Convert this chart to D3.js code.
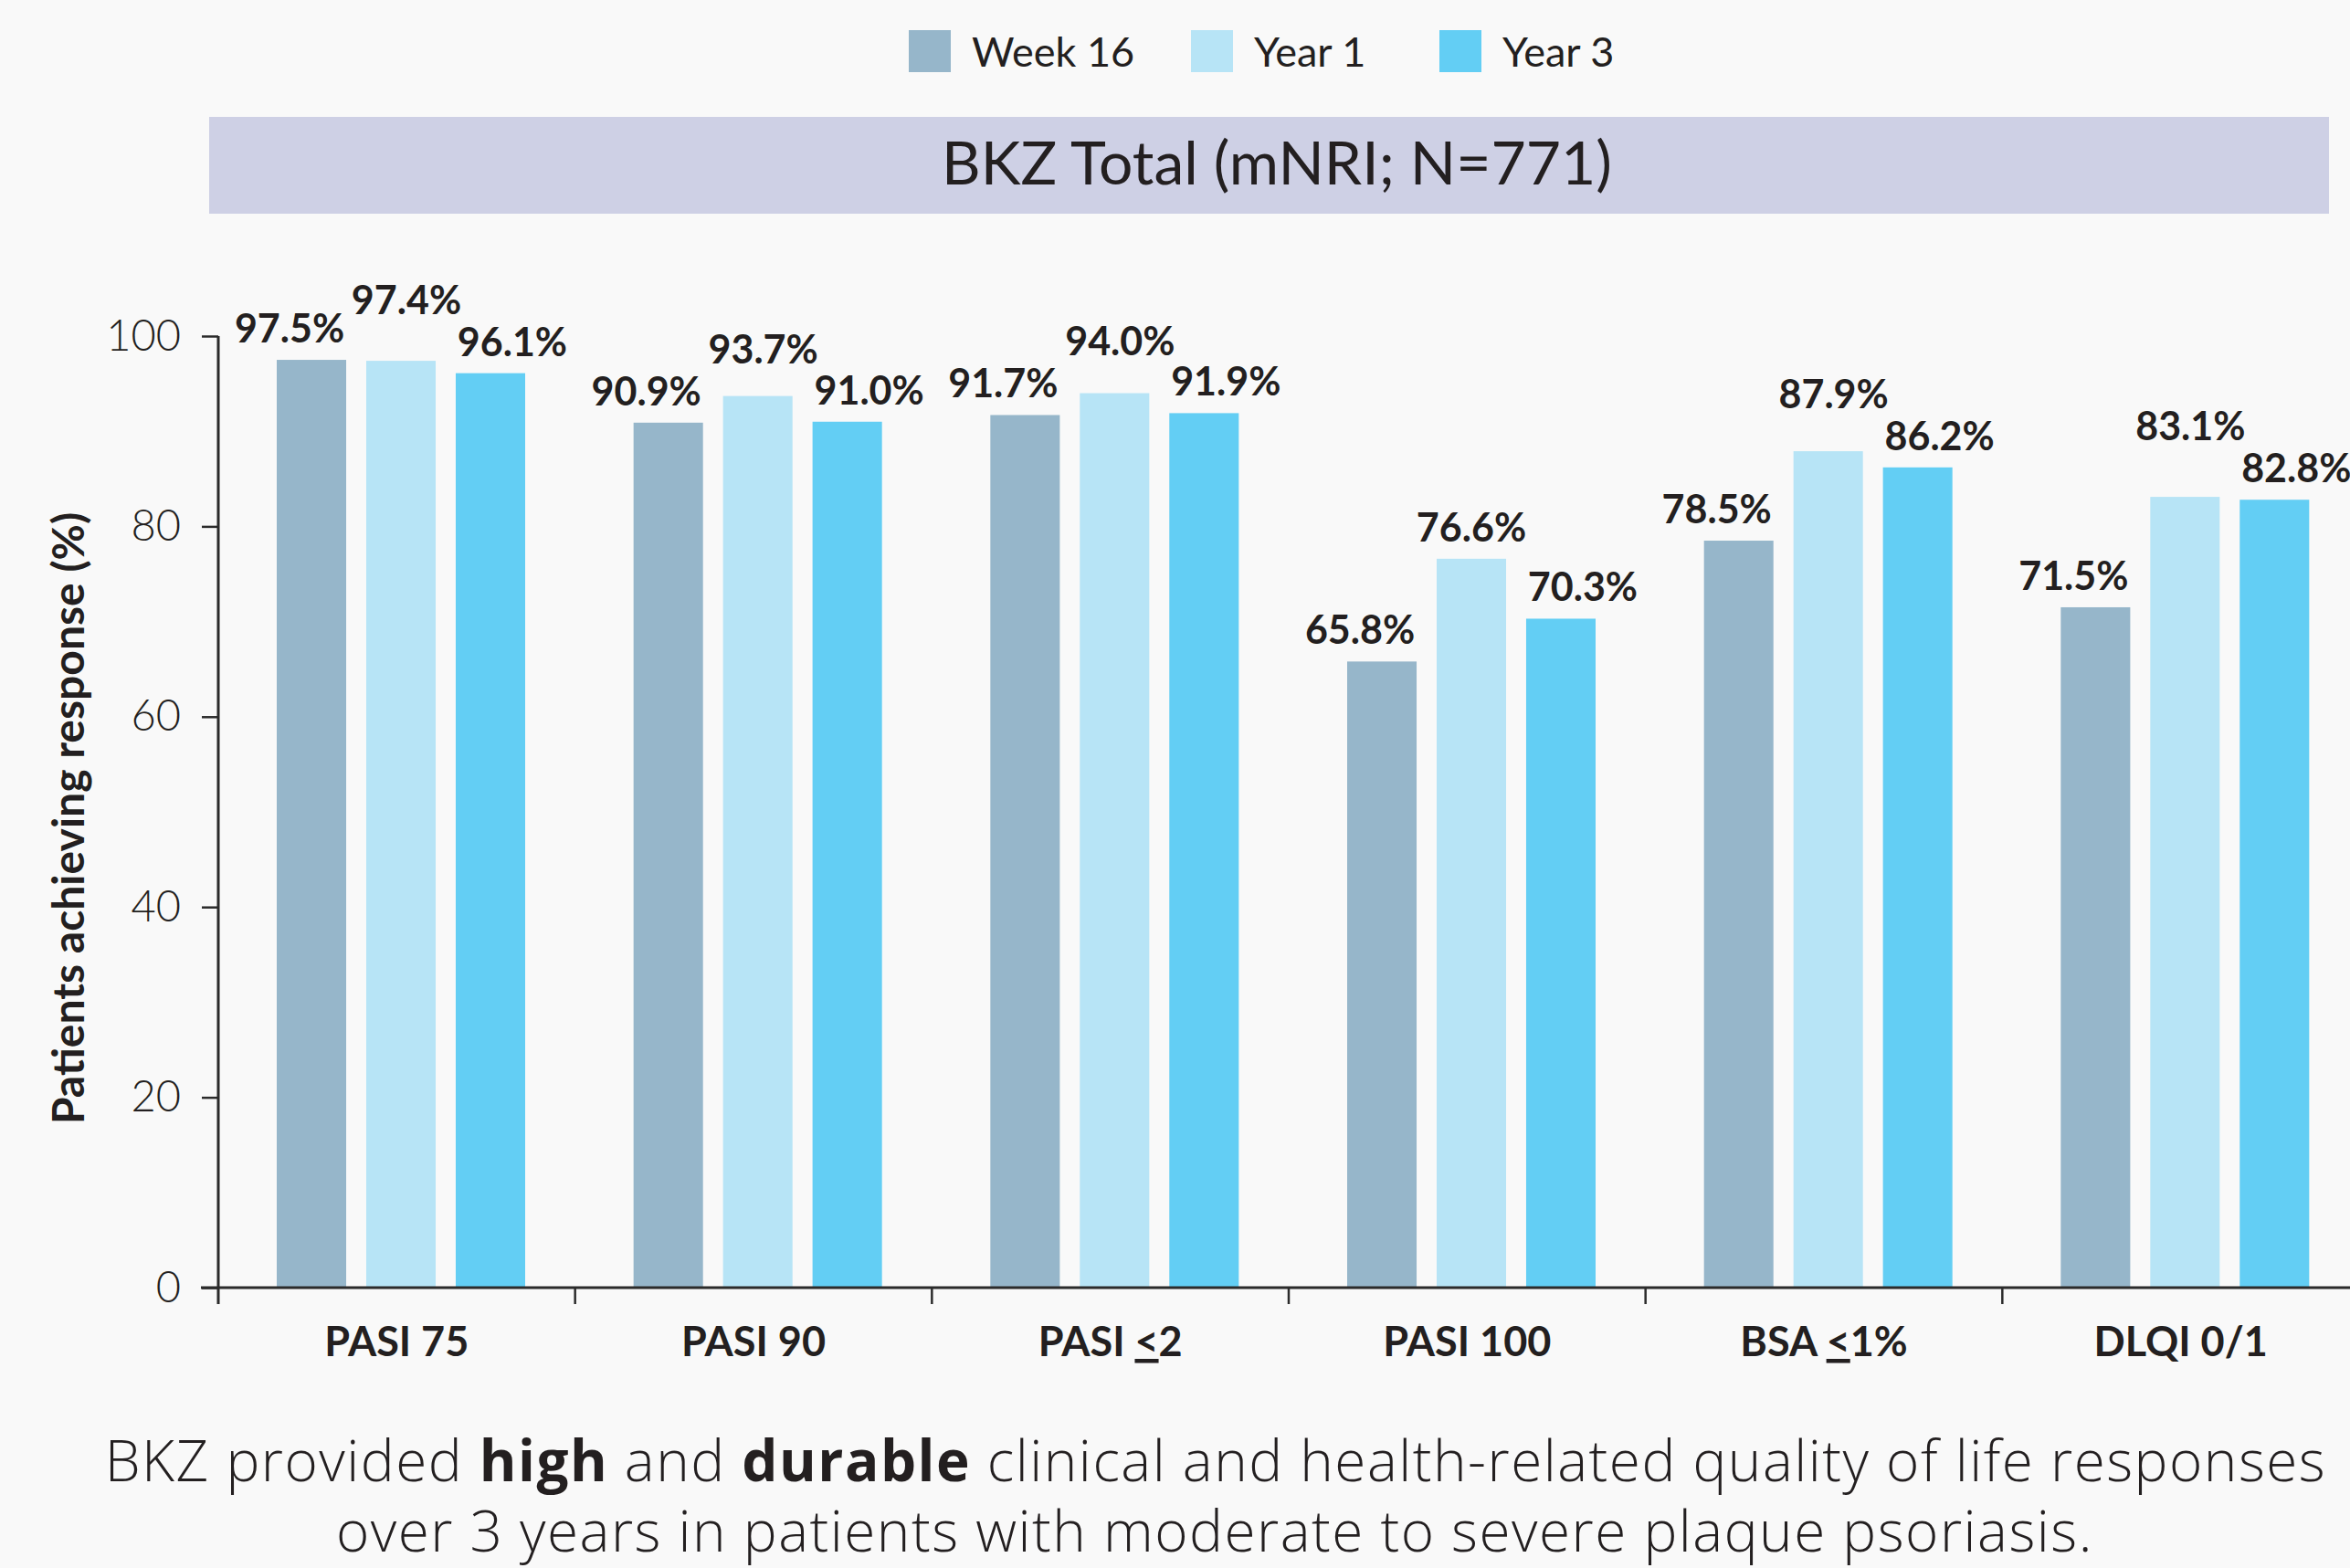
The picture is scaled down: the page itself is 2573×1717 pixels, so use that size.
<!DOCTYPE html>
<html>
<head>
<meta charset="utf-8">
<script src="https://cdn.jsdelivr.net/npm/d3@7"></script>
<style>
  html, body { margin: 0; padding: 0; background: #f9f9f9; }
  svg { display: block; }
</style>
</head>
<body>
<div class="chart"></div>
<script>
// data
let categories = ["PASI 75", "PASI 90", "PASI ≤2", "PASI 100", "BSA ≤1%", "DLQI 0/1"];
let seriesNames = ["Week 16", "Year 1", "Year 3"];
let week16 = [97.5, 90.9, 91.7, 65.8, 78.5, 71.5];
let year1 = [97.4, 93.7, 94.0, 76.6, 87.9, 83.1];
let year3 = [96.1, 91.0, 91.9, 70.3, 86.2, 82.8];
let yTicks = [0, 20, 40, 60, 80, 100];
let panelTitle = "BKZ Total (mNRI; N=771)";
let yTitle = "Patients achieving response (%)";

let config = {
  width: 2573,
  height: 1717,
  font: 'Lato, "Open Sans", sans-serif',
  captionFont: '"Open Sans", Lato, sans-serif',
  textColor: '#231f20',
  axisColor: '#2b2b2b',
  colors: ["#96b6ca", "#b7e4f6", "#63cef4"],
  bandColor: '#ced0e5',
  bg: '#f9f9f9'
}

let svg = d3.select('div.chart').append('svg')
  .attr('width', config.width)
  .attr('height', config.height)
  .attr('font-family', config.font);

svg.append('rect')
  .attr('width', config.width).attr('height', config.height)
  .attr('fill', config.bg);

let values = [week16, year1, year3];

// scales
let x0 = d3.scaleBand()
  .domain(categories)
  .range([239, 2583]);

let x1 = d3.scaleBand()
  .domain(seriesNames)
  .range([64, 336])
  .paddingInner(0.224);

let y = d3.scaleLinear()
  .domain([0, 100])
  .range([1410, 368]);

let color = d3.scaleOrdinal()
  .domain(seriesNames)
  .range(config.colors);

// legend
let legend = svg.append('g').attr('transform', 'translate(995,33)');
let legendX = [0, 309, 581];
seriesNames.forEach((s, i) => {
  let g = legend.append('g').attr('transform', 'translate(' + legendX[i] + ',0)');
  g.append('rect').attr('width', 46).attr('height', 46).attr('fill', color(s));
  g.append('text')
    .attr('x', 69).attr('y', 40)
    .attr('font-size', 45)
    .attr('fill', config.textColor)
    .text(s);
});

// title band
svg.append('rect')
  .attr('x', 229).attr('y', 128)
  .attr('width', 2321).attr('height', 106)
  .attr('fill', config.bandColor);

svg.append('text')
  .attr('x', 1398).attr('y', 202)
  .attr('text-anchor', 'middle')
  .attr('font-size', 66)
  .attr('fill', config.textColor)
  .text(panelTitle);

// y axis
let yAxis = svg.append('g')
  .attr('transform', 'translate(239,0)')
  .call(d3.axisLeft(y).tickValues(yTicks).tickSize(18).tickPadding(23));
yAxis.select('.domain').remove();
yAxis.selectAll('.tick line').attr('stroke', config.axisColor).attr('stroke-width', 2.5);
yAxis.selectAll('.tick text')
  .attr('font-size', 47)
  .attr('font-weight', 300)
  .attr('font-family', config.font)
  .attr('fill', config.textColor);

svg.append('line')
  .attr('x1', 239).attr('x2', 239)
  .attr('y1', y(100)).attr('y2', y(0) + 18)
  .attr('stroke', config.axisColor).attr('stroke-width', 3);

svg.append('text')
  .attr('transform', 'translate(92,' + 896 + ') rotate(-90)')
  .attr('text-anchor', 'middle')
  .attr('font-size', 48)
  .attr('font-weight', 700)
  .attr('fill', config.textColor)
  .text(yTitle);

// bars
let groups = svg.selectAll('.group')
  .data(categories)
  .enter().append('g')
  .attr('transform', d => 'translate(' + x0(d) + ',0)');

groups.selectAll('rect')
  .data((c, ci) => seriesNames.map((s, si) => ({ s: s, v: values[si][ci] })))
  .enter().append('rect')
  .attr('x', d => x1(d.s))
  .attr('width', x1.bandwidth())
  .attr('y', d => y(d.v))
  .attr('height', d => y(0) - y(d.v))
  .attr('fill', d => color(d.s));

// x axis
svg.append('line')
  .attr('x1', 220).attr('x2', config.width)
  .attr('y1', y(0)).attr('y2', y(0))
  .attr('stroke', config.axisColor).attr('stroke-width', 3.2);

svg.selectAll('.xtick')
  .data(categories.slice(1))
  .enter().append('line')
  .attr('x1', d => x0(d)).attr('x2', d => x0(d))
  .attr('y1', y(0)).attr('y2', y(0) + 18)
  .attr('stroke', config.axisColor).attr('stroke-width', 2.5);

let catLabels = svg.selectAll('.cat')
  .data(categories)
  .enter().append('text')
  .attr('x', d => x0(d) + x0.bandwidth() / 2)
  .attr('y', 1485)
  .attr('text-anchor', 'middle')
  .attr('font-size', 45)
  .attr('font-weight', 700)
  .attr('fill', config.textColor);

catLabels.each(function(d) {
  let t = d3.select(this);
  let parts = d.split('≤');
  t.append('tspan').text(parts[0]);
  if (parts.length > 1) {
    t.append('tspan').attr('text-decoration', 'underline').text('<');
    t.append('tspan').text(parts[1]);
  }
});

// value labels: outer ones pushed outwards, middle one lifted if it collides
let capH = 34;
groups.each(function(c, ci) {
  let g = d3.select(this);
  let labels = seriesNames.map((s, si) => {
    let v = values[si][ci];
    let cx = x1(s) + x1.bandwidth() / 2 + (si - 1) * 24;
    let t = g.append('text')
      .attr('text-anchor', 'middle')
      .attr('font-size', 43)
      .attr('font-weight', 700)
      .attr('fill', config.textColor)
      .attr('x', cx)
      .text(v.toFixed(1) + '%');
    let w = t.node().getComputedTextLength();
    return { t: t, cx: cx, w: w, base: y(v) - 19 };
  });
  let mid = labels[1];
  let hits = [labels[0], labels[2]].filter(o => {
    let hx = Math.abs(o.cx - mid.cx) < (o.w + mid.w) / 2 + 8;
    let hy = mid.base > o.base - capH - 4;
    return hx && hy;
  });
  if (hits.length) {
    mid.base = d3.max(hits, o => o.base - capH) - 12;
    mid.t.attr('x', mid.cx + 6);
  }
  labels.forEach(o => o.t.attr('y', o.base));
});

// caption
let caption = svg.append('g')
  .attr('font-family', config.captionFont)
  .attr('font-size', 62)
  .attr('font-weight', 300)
  .attr('letter-spacing', 1.5)
  .attr('fill', config.textColor)
  .attr('text-anchor', 'middle');

let line1 = caption.append('text').attr('x', 1331).attr('y', 1622);
[["BKZ provided ", 300], ["high", 700], [" and ", 300], ["durable", 700],
 [" clinical and health-related quality of life responses", 300]].forEach(p => {
  line1.append('tspan').attr('font-weight', p[1]).text(p[0]);
});
caption.append('text').attr('x', 1330).attr('y', 1699)
  .text("over 3 years in patients with moderate to severe plaque psoriasis.");
</script>
</body>
</html>
